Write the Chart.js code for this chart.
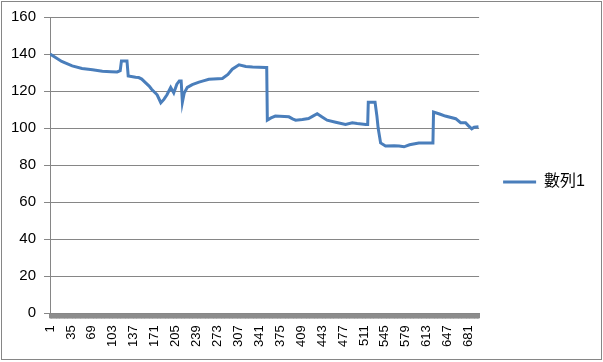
<!DOCTYPE html>
<html>
<head>
<meta charset="utf-8">
<script src="https://cdn.jsdelivr.net/npm/chart.js@4/dist/chart.umd.min.js"></script>
<style>
  html, body { margin: 0; padding: 0; background: #fff; }
  #wrap { position: relative; width: 603px; height: 362px; }
  #frame { position: absolute; left: 1px; top: 1px; width: 599px; height: 357px; border: 1px solid #868686; pointer-events: none; }
  canvas { position: absolute; left: 0; top: 0; }
</style>
</head>
<body>
<div id="wrap">
  <canvas id="c" width="603" height="362"></canvas>
  <div id="frame"></div>
</div>
<script>
// ---- data ----
const seriesName = "數列1";
const pointIndex = [1, 8, 20, 37, 53, 70, 86, 100, 110, 115, 117, 126, 128, 140, 145, 150, 156, 162, 166, 175,
  181, 186, 191, 197, 202, 207, 211, 214, 216, 219, 224, 232, 243, 250, 259, 281, 290, 297,
  308, 319, 330, 351, 353, 354, 360, 367, 389, 395, 400, 411, 421, 428, 435, 443, 451, 465, 481, 492,
  500, 514, 517, 518, 529, 532, 534, 538, 546, 560, 568, 576, 585, 600, 623, 624, 635, 643, 660, 668,
  676, 680, 686, 690, 697];
const seriesValues = [140, 138.5, 136, 133.6, 132.2, 131.5, 130.7, 130.5, 130.3, 131, 136.3, 136.3, 128.2, 127.5, 127.3, 126.5, 124.6, 122.7, 121, 118,
  113.7, 115.5, 118, 122, 119, 123.7, 125.5, 125.5, 114, 119, 122, 123.5, 124.8, 125.5, 126.4, 126.8, 129, 131.8,
  134.2, 133.3, 133, 132.7, 132.7, 104.3, 105.5, 106.5, 106.1, 105, 104.3, 104.7, 105.2, 106.5, 107.8, 106, 104.3, 103.2, 102, 102.9,
  102.5, 102, 102, 114, 114, 106.5, 100, 92, 90.3, 90.5, 90.3, 89.9, 91, 92, 92, 108.7, 107.5, 106.5, 105.1, 102.9,
  102.9, 101.5, 99.6, 100.5, 100.7];
const xTickLabels = [1, 35, 69, 103, 137, 171, 205, 239, 273, 307, 341, 375, 409, 443, 477, 511, 545, 579, 613, 647, 681];
const categoryCount = 698;
const yTicks = [0, 20, 40, 60, 80, 100, 120, 140, 160];

const points = pointIndex.map((x, i) => ({ x: x, y: seriesValues[i] }));

Chart.defaults.font.family = '"Liberation Sans", "Noto Sans CJK TC", Arial, sans-serif';
Chart.defaults.color = '#000';

new Chart(document.getElementById('c'), {
  type: 'line',
  data: {
    datasets: [{
      label: seriesName,
      data: points,
      borderColor: '#4A7EBB',
      backgroundColor: '#4A7EBB',
      borderWidth: 3,
      pointRadius: 0,
      tension: 0,
      fill: false
    }]
  },
  options: {
    responsive: false,
    animation: false,
    layout: { padding: { left: 3, top: 10, right: 8, bottom: 8 } },
    plugins: {
      tooltip: { enabled: false },
      legend: {
        position: 'right',
        labels: {
          usePointStyle: true,
          pointStyle: 'line',
          pointStyleWidth: 33,
          padding: 24,
          font: { size: 16 },
          color: '#000'
        }
      }
    },
    scales: {
      x: {
        type: 'linear',
        min: 1,
        max: categoryCount,
        afterBuildTicks: (scale) => {
          const t = [];
          for (let i = 1; i <= categoryCount; i++) t.push({ value: i });
          scale.ticks = t;
        },
        grid: { drawOnChartArea: false, drawTicks: true, tickLength: 5, color: '#8c8c8c', lineWidth: 2 },
        border: { display: true, color: '#868686', width: 1 },
        ticks: {
          autoSkip: false,
          maxRotation: 90,
          minRotation: 90,
          padding: 7,
          font: { size: 13 },
          color: '#000',
          callback: (v) => xTickLabels.includes(v) ? String(v) : ''
        }
      },
      y: {
        min: 0,
        max: 160,
        afterBuildTicks: (scale) => { scale.ticks = yTicks.map(v => ({ value: v })); },
        grid: { color: '#868686', lineWidth: 1, tickLength: 6, drawTicks: true },
        border: { display: true, color: '#868686', width: 1 },
        ticks: { padding: 8, font: { size: 15 }, color: '#000' }
      }
    }
  }
});
</script>
</body>
</html>
